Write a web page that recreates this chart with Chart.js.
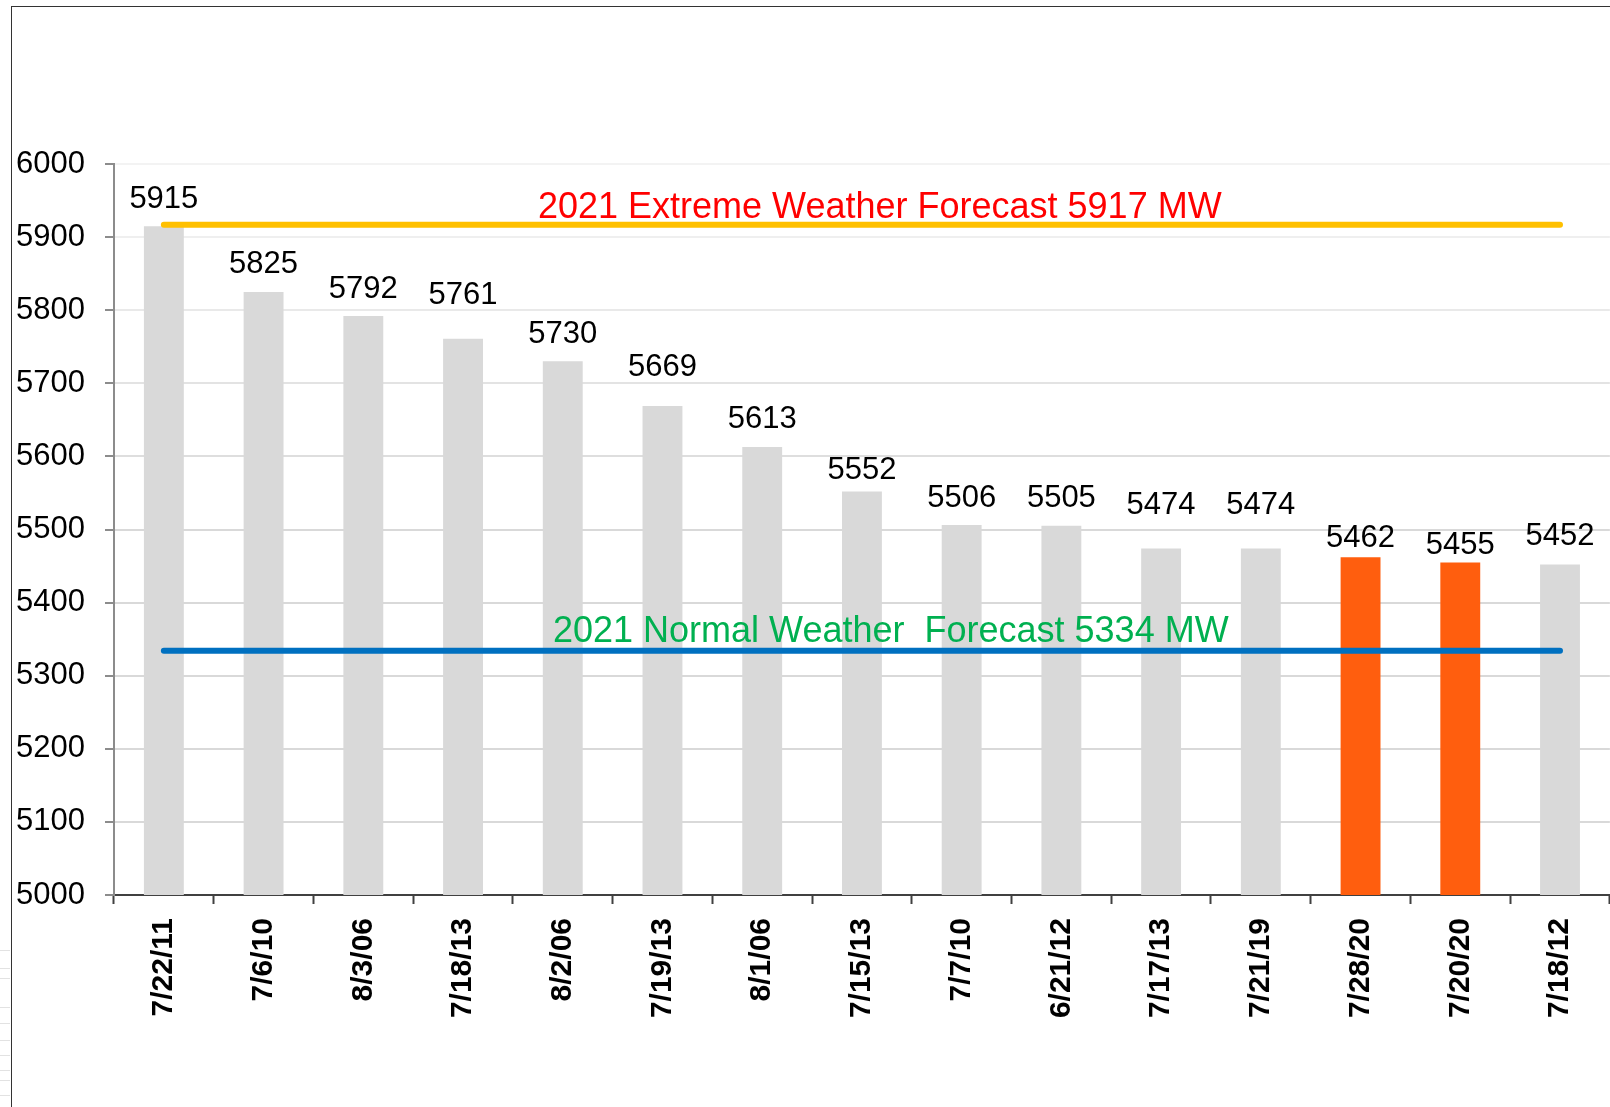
<!DOCTYPE html>
<html>
<head>
<meta charset="utf-8">
<script src="https://cdn.jsdelivr.net/npm/chart.js@4.4.1/dist/chart.umd.min.js"></script>
<style>
  html, body { margin: 0; padding: 0; background: #ffffff; }
  #wrap { position: relative; width: 1610px; height: 1107px; overflow: hidden; background: #ffffff; }
  #c { position: absolute; left: 0; top: 0; }
  #frame { position: absolute; left: 11px; top: 6px; right: -5px; bottom: -5px;
           border-left: 1px solid #333333; border-top: 1px solid #333333; pointer-events: none; }
  .sheet { position: absolute; left: 0; width: 10px; height: 1px; background: #e2e2e2; }
</style>
</head>
<body>
<div id="wrap">
  <canvas id="c" width="1610" height="1107"></canvas>
  <div id="frame"></div>
  <div class="sheet" style="top:950px"></div>
  <div class="sheet" style="top:968px"></div>
  <div class="sheet" style="top:978px"></div>
  <div class="sheet" style="top:1007px"></div>
  <div class="sheet" style="top:1023px"></div>
  <div class="sheet" style="top:1040px"></div>
  <div class="sheet" style="top:1055px"></div>
  <div class="sheet" style="top:1070px"></div>
  <div class="sheet" style="top:1080px"></div>
  <div class="sheet" style="top:1095px"></div>
</div>
<script>
// ---------------- data ----------------
const categories = ['7/22/11', '7/6/10', '8/3/06', '7/18/13', '8/2/06', '7/19/13', '8/1/06',
                    '7/15/13', '7/7/10', '6/21/12', '7/17/13', '7/21/19', '7/28/20', '7/20/20', '7/18/12'];
const peakLoads = [5915, 5825, 5792, 5761, 5730, 5669, 5613, 5552, 5506, 5505, 5474, 5474, 5462, 5455, 5452];
const highlightedDays = ['7/28/20', '7/20/20'];
const extremeForecast = 5917;
const normalForecast = 5334;
const yMin = 5000;
const yMax = 6000;
const yStep = 100;

// ---------------- styles ----------------
const FONT = "'Liberation Sans', Arial, sans-serif";
const GRAY = '#D9D9D9';
const ORANGE = '#FF5E0E';
const YELLOW = '#FFC000';
const BLUE = '#0070C0';
// gap in px between each value label's baseline and its bar top (labels were hand-placed in the original)
const labelGaps = [18.5, 18.5, 18, 34.5, 18.7, 30.3, 19, 12, 18.5, 18.5, 35, 35, 10, 8, 19.5];

const isHighlighted = (i) => highlightedDays.includes(categories[i]);

const annotations = [
  { value: extremeForecast, text: '2021 Extreme Weather Forecast ' + extremeForecast + ' MW', color: '#FF0000', dx: 424, dy: 7 },
  { value: normalForecast,  text: '2021 Normal Weather  Forecast ' + normalForecast + ' MW', color: '#00B050', dx: 439, dy: 9 }
];

const labelPlugin = {
  id: 'labelPlugin',
  afterDatasetsDraw(chart) {
    const ctx = chart.ctx;
    const meta = chart.getDatasetMeta(2);
    ctx.save();
    ctx.font = '31px ' + FONT;
    ctx.fillStyle = '#000000';
    ctx.textAlign = 'center';
    ctx.textBaseline = 'alphabetic';
    meta.data.forEach((bar, i) => {
      ctx.fillText(String(peakLoads[i]), bar.x, bar.y - labelGaps[i]);
    });
    const y = chart.scales.y;
    ctx.font = '36px ' + FONT;
    ctx.textAlign = 'left';
    annotations.forEach(a => {
      ctx.fillStyle = a.color;
      ctx.fillText(a.text, chart.chartArea.left + a.dx, y.getPixelForValue(a.value) - a.dy);
    });
    ctx.restore();
  }
};

const gridColor = (ctx) => {
  const v = ctx.tick ? ctx.tick.value : 0;
  if (v >= 6000) return '#F3F3F3';
  if (v >= 5900) return '#EFEFEF';
  if (v >= 5800) return '#E9E9E9';
  if (v >= 5700) return '#E3E3E3';
  if (v >= 5600) return '#DEDEDE';
  return '#D9D9D9';
};

const first = categories[0];
const last = categories[categories.length - 1];

new Chart(document.getElementById('c'), {
  data: {
    labels: categories,
    datasets: [
      {
        type: 'line',
        data: [{ x: first, y: extremeForecast }, { x: last, y: extremeForecast }],
        borderColor: YELLOW,
        borderWidth: 6,
        borderCapStyle: 'round',
        pointRadius: 0,
        order: 1
      },
      {
        type: 'line',
        data: [{ x: first, y: normalForecast }, { x: last, y: normalForecast }],
        borderColor: BLUE,
        borderWidth: 6,
        borderCapStyle: 'round',
        pointRadius: 0,
        order: 1
      },
      {
        type: 'bar',
        data: peakLoads,
        backgroundColor: (ctx) => isHighlighted(ctx.dataIndex) ? ORANGE : GRAY,
        borderWidth: 0,
        categoryPercentage: 1.0,
        barPercentage: 0.4,
        order: 2
      }
    ]
  },
  options: {
    responsive: false,
    devicePixelRatio: 1,
    animation: false,
    events: [],
    layout: { padding: { top: 164, left: 0, right: 0, bottom: 0 } },
    plugins: { legend: { display: false }, tooltip: { enabled: false }, title: { display: false } },
    scales: {
      x: {
        type: 'category',
        offset: true,
        afterFit: (s) => { s.height = 212; },
        grid: { drawOnChartArea: false, drawTicks: true, tickLength: 9, tickColor: '#404040', tickWidth: 2, offset: true },
        border: { display: true, color: '#404040', width: 2 },
        ticks: {
          autoSkip: false, maxRotation: 90, minRotation: 90, padding: 14,
          color: '#000000', font: { family: FONT, size: 30, weight: 'bold' }
        }
      },
      y: {
        min: yMin, max: yMax,
        afterFit: (s) => { s.width = 114; },
        grid: { color: gridColor, lineWidth: 2, tickLength: 9, tickColor: '#8C8C8C', tickWidth: 2 },
        border: { display: true, color: '#8C8C8C', width: 2 },
        ticks: {
          stepSize: yStep, padding: 20, color: '#000000', font: { family: FONT, size: 31 },
          callback: (v) => String(v)
        }
      }
    }
  },
  plugins: [labelPlugin]
});
</script>
</body>
</html>
